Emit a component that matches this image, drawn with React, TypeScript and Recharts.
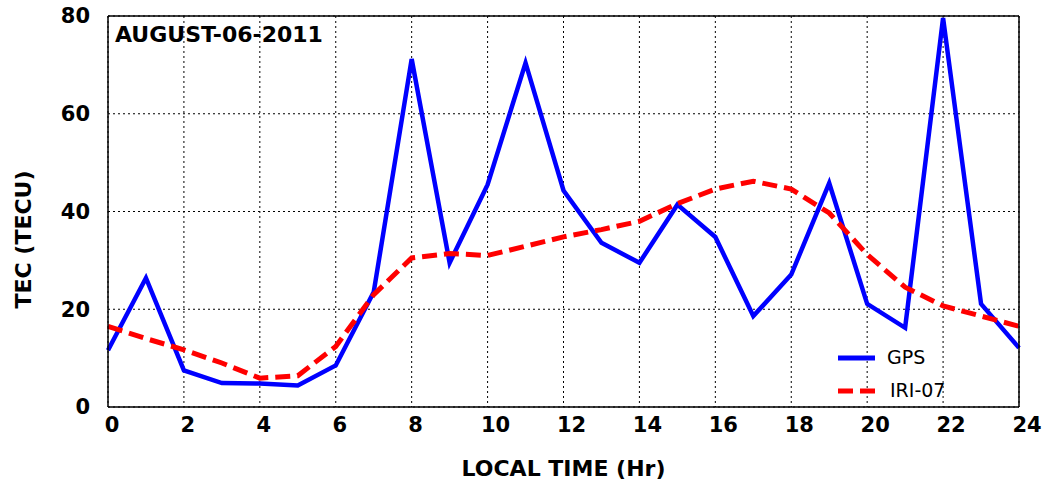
import React from 'react';
import { LineChart, Line, XAxis, YAxis, CartesianGrid, Label } from 'recharts';

const hours = [0, 1, 2, 3, 4, 5, 6, 7, 8, 9, 10, 11, 12, 13, 14, 15, 16, 17, 18, 19, 20, 21, 22, 23, 24];
const gps = [11.6, 26.4, 7.5, 4.9, 4.8, 4.4, 8.5, 23.5, 71.2, 29.5, 45.5, 70.4, 44.3, 33.6, 29.5, 41.4, 34.8, 18.6, 27.1, 45.8, 21.1, 16.2, 79.6, 21.1, 12.1];
const iri = [16.5, 14.0, 11.7, 9.0, 5.9, 6.4, 12.4, 23.0, 30.5, 31.4, 31.0, 32.9, 34.8, 36.3, 38.0, 41.6, 44.6, 46.2, 44.6, 39.7, 31.2, 24.5, 20.7, 18.6, 16.5];
const xTicks = [0, 2, 4, 6, 8, 10, 12, 14, 16, 18, 20, 22, 24];
const yTicks = [0, 20, 40, 60, 80];
const title = 'AUGUST-06-2011';
const seriesNames = ['GPS', 'IRI-07'];

const data = hours.map((h, i) => ({ hour: h, gps: gps[i], iri: iri[i] }));

const FONT = '"DejaVu Sans", Verdana, sans-serif';

const XTick = (props: any) => {
  const { x, y, payload } = props;
  const label = String(payload.value);
  const dx = label.length === 1 ? 4 : 8;
  return (
    <text
      x={x + dx}
      y={y}
      dy="0.71em"
      textAnchor="middle"
      fontFamily={FONT}
      fontWeight="bold"
      fontSize={21}
      fill="#000"
    >
      {label}
    </text>
  );
};

const LegendBox = () => (
  <div style={{ position: 'absolute', left: 838, top: 341, fontFamily: FONT, fontSize: 19, color: '#000', lineHeight: '33px' }}>
    <div style={{ display: 'flex', alignItems: 'center', height: 33 }}>
      <svg width={37} height={10} style={{ marginRight: 12 }}>
        <line x1={0} y1={5} x2={37} y2={5} stroke="#0000ff" strokeWidth={5} />
      </svg>
      <span>{seriesNames[0]}</span>
    </div>
    <div style={{ display: 'flex', alignItems: 'center', height: 33 }}>
      <svg width={37} height={10} style={{ marginRight: 15 }}>
        <line x1={0} y1={5} x2={37} y2={5} stroke="#ff0000" strokeWidth={5} strokeDasharray="15 7" />
      </svg>
      <span>{seriesNames[1]}</span>
    </div>
  </div>
);

const YTitle = (props: any) => {
  const vb = props.viewBox || { x: 0, y: 0, width: 108, height: 391 };
  const cx = vb.x + 23;
  const cy = vb.y + vb.height / 2 + 28;
  return (
    <text
      x={cx}
      y={cy}
      transform={`rotate(-90, ${cx}, ${cy})`}
      textAnchor="middle"
      dominantBaseline="central"
      fontFamily={FONT}
      fontWeight="bold"
      fontSize={22}
      fill="#000"
    >
      TEC (TECU)
    </text>
  );
};

export default function App() {
  return (
    <div style={{ position: 'absolute', left: 0, top: 0, width: 1044, height: 481, background: '#fff' }}>
      <LineChart width={1044} height={481} data={data} margin={{ top: 16, right: 25, bottom: 0, left: 0 }}>
        <CartesianGrid stroke="#000" strokeWidth={1} strokeDasharray="2 3" />
        <XAxis
          dataKey="hour"
          type="number"
          domain={[0, 24]}
          ticks={xTicks}
          height={74}
          tickSize={0}
          tickMargin={10}
          axisLine={{ stroke: '#000', strokeWidth: 1.5 }}
          tickLine={false}
          tick={<XTick />}
          interval={0}
        >
          <Label
            value="LOCAL TIME (Hr)"
            position="insideBottom"
            offset={5}
            style={{ fill: '#000', fontFamily: FONT, fontWeight: 'bold', fontSize: 22 }}
          />
        </XAxis>
        <XAxis
          xAxisId="bin"
          dataKey="hour"
          type="number"
          domain={[0, 24]}
          ticks={xTicks}
          orientation="bottom"
          mirror
          tick={false}
          axisLine={false}
          tickSize={7}
          tickLine={{ stroke: '#000', strokeWidth: 1 }}
          interval={0}
        />
        <XAxis
          xAxisId="top"
          dataKey="hour"
          type="number"
          domain={[0, 24]}
          ticks={xTicks}
          orientation="top"
          mirror
          tick={false}
          axisLine={{ stroke: '#000', strokeWidth: 1.5 }}
          tickSize={7}
          tickLine={{ stroke: '#000', strokeWidth: 1 }}
          interval={0}
        />
        <YAxis
          type="number"
          domain={[0, 80]}
          ticks={yTicks}
          width={108}
          tickSize={0}
          tickMargin={18}
          axisLine={{ stroke: '#000', strokeWidth: 1.5 }}
          tickLine={false}
          tick={{ fill: '#000', fontFamily: FONT, fontWeight: 'bold', fontSize: 21 }}
          interval={0}
        >
          <Label content={<YTitle />} position="insideLeft" />
        </YAxis>
        <YAxis
          yAxisId="lin"
          type="number"
          domain={[0, 80]}
          ticks={yTicks}
          orientation="left"
          mirror
          tick={false}
          axisLine={false}
          tickSize={7}
          tickLine={{ stroke: '#000', strokeWidth: 1 }}
          interval={0}
        />
        <YAxis
          yAxisId="right"
          type="number"
          domain={[0, 80]}
          ticks={yTicks}
          orientation="right"
          mirror
          tick={false}
          axisLine={{ stroke: '#000', strokeWidth: 1.5 }}
          tickSize={7}
          tickLine={{ stroke: '#000', strokeWidth: 1 }}
          interval={0}
        />
        <Line
          type="linear"
          dataKey="gps"
          stroke="#0000ff"
          strokeWidth={4.5}
          dot={false}
          activeDot={false}
          isAnimationActive={false}
          name={seriesNames[0]}
        />
        <Line
          type="linear"
          dataKey="iri"
          stroke="#ff0000"
          strokeWidth={5}
          strokeDasharray="15 7"
          dot={false}
          activeDot={false}
          isAnimationActive={false}
          name={seriesNames[1]}
        />
      </LineChart>
      <LegendBox />
      <div
        style={{
          position: 'absolute',
          left: 115,
          top: 21,
          fontFamily: FONT,
          fontWeight: 'bold',
          fontSize: 22,
          color: '#000',
          lineHeight: '28px',
          whiteSpace: 'nowrap',
        }}
      >
        {title}
      </div>
    </div>
  );
}
